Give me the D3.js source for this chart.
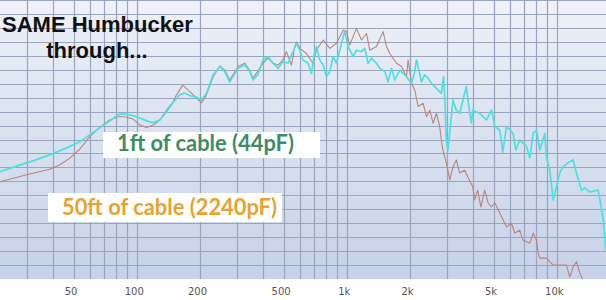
<!DOCTYPE html>
<html>
<head>
<meta charset="utf-8">
<script src="https://cdn.jsdelivr.net/npm/d3@7"></script>
<style>
  body { margin: 0; background: #fff; }
  svg { display: block; }
</style>
</head>
<body>
<div id="chart"></div>
<script>
// [frequency Hz, level dB]
const shortCable = [
  [22.3,-36.9],[27.7,-35.5],[32,-34.6],[38.5,-33.3],[46.4,-31.8],[53.5,-30.5],[59.7,-29.0],[66.6,-27.5],
  [74.4,-26.0],[81.2,-24.7],[85.8,-24.5],[92.6,-24.7],[100,-25.1],[111.6,-26.0],[119.2,-26.4],[128.7,-25.8],
  [139,-24.0],[148.4,-22.1],[160,-20.4],[169,-20.0],[178.9,-20.6],[192.5,-20.9],[203.4,-21.5],[214.7,-20.1],
  [231,-16.1],[248.5,-14.3],[262.5,-15.4],[277,-17.6],[287,-16.5],[304,-14.7],[327,-14.0],[345,-15.4],
  [358,-17.2],[377,-16.1],[398.5,-12.9],[422,-12.2],[446,-13.6],[471,-14.7],[497,-13.3],[525,-13.6],
  [555,-11.1],[576,-9.3],[597,-10.8],[619,-12.9],[654,-13.6],[679,-15.8],[704,-11.1],[717,-10.0],
  [744,-12.9],[772,-14.0],[800,-16.5],[830,-15.4],[861,-12.2],[893,-13.6],[926,-10.8],[961,-7.9],
  [978,-6.8],[1014,-10.0],[1072,-12.2],[1112,-10.8],[1175,-11.1],[1218,-10.4],[1263,-13.6],[1311,-12.5],
  [1385,-13.6],[1436,-14.7],[1517,-15.4],[1573,-17.6],[1633,-14.7],[1694,-17.2],[1789,-15.1],[1925,-16.5],
  [2034,-17.9],[2108,-15.4],[2147,-12.9],[2186,-14.3],[2268,-17.6],[2351,-16.1],[2438,-16.8],[2530,-17.9],
  [2623,-18.6],[2720,-19.4],[2820,-20.1],[2891,-16.5],[2933,-21.5],[2980,-30.1],[3032,-32.3],[3204,-21.5],
  [3323,-23.7],[3446,-24.4],[3640,-20.1],[3710,-18.6],[3775,-21.5],[3916,-26.5],[3985,-23.7],[4287,-24.4],
  [4627,-25.8],[4890,-23.7],[5070,-27.2],[5353,-28.0],[5530,-32.7],[5760,-27.2],[6190,-28.7],[6380,-32.3],
  [6660,-30.1],[7170,-31.5],[7440,-34.0],[7720,-28.7],[8010,-28.0],[8300,-32.3],[8770,-28.7],[8930,-33.8],
  [9260,-36.6],[9610,-43.0],[9970,-40.2],[10330,-37.2],[10720,-35.9],[11320,-35.0],[11960,-34.4],[12410,-37.2],
  [13110,-40.9],[13590,-40.4],[14360,-41.3],[15730,-40.9],[16150,-43.6],[16620,-47.3],[17130,-53.8]
];

const longCable = [
  [22.3,-39.1],[29.9,-37.6],[38.5,-36.4],[42.9,-35.5],[48,-34.0],[53.5,-32.1],[59.7,-29.4],[66.6,-27.4],
  [74.4,-25.8],[81.5,-25.1],[87.7,-25.1],[96,-25.6],[103.6,-26.9],[111.2,-27.4],[119.6,-26.9],[128.7,-25.8],
  [138.6,-23.7],[149,-21.9],[154.6,-20.4],[165.5,-18.3],[178.9,-19.7],[192.5,-21.1],[203.4,-22.1],[214.7,-20.4],
  [231,-16.5],[248.5,-14.2],[262.5,-15.1],[277,-17.2],[287,-16.1],[304,-14.3],[327,-13.6],[345,-15.1],
  [358,-16.8],[385,-14.7],[398.5,-13.6],[422,-12.5],[446,-13.6],[471,-14.0],[497,-12.9],[516,-11.1],
  [545,-14.0],[566,-10.0],[576,-9.0],[597,-10.4],[643,-11.5],[690,-13.6],[717,-10.8],[772,-8.6],
  [830,-10.4],[893,-9.3],[961,-6.5],[997,-6.8],[1033,-9.7],[1112,-6.1],[1175,-8.6],[1241,-7.2],
  [1287,-10.8],[1385,-10.0],[1489,-6.8],[1546,-10.0],[1602,-11.5],[1724,-13.6],[1822,-14.3],[1925,-16.5],
  [1959,-12.9],[2034,-17.9],[2108,-19.4],[2186,-22.9],[2309,-22.2],[2397,-25.1],[2485,-23.7],[2576,-26.5],
  [2672,-24.4],[2770,-27.2],[2820,-30.1],[2870,-32.3],[2980,-35.1],[3094,-38.7],[3204,-35.9],[3323,-34.4],
  [3446,-37.2],[3640,-36.6],[3775,-38.1],[3985,-40.2],[4060,-43.0],[4200,-40.9],[4350,-44.5],[4538,-40.9],
  [4710,-43.6],[4890,-44.5],[5070,-43.6],[5353,-45.8],[5760,-48.8],[6080,-48.0],[6310,-50.1],[6660,-49.5],
  [6900,-51.6],[7440,-52.3],[7720,-50.1],[8010,-51.6],[8150,-54.4],[8300,-55.5],[8930,-55.5],[9610,-57.0],
  [10330,-57.0],[11120,-57.0],[11530,-59.6],[11960,-57.4],[12410,-56.3],[12870,-58.7],[13260,-60]
];

const tickHz = [50, 100, 200, 500, 1000, 2000, 5000, 10000];
const tickLabels = ["50", "100", "200", "500", "1k", "2k", "5k", "10k"];
const titleLines = ["SAME Humbucker", "through..."];
const seriesNames = ["1ft of cable (44pF)", "50ft of cable (2240pF)"];

const width = 606, height = 300;
const plotH = 279;

const svg = d3.select("#chart").append("svg")
    .attr("width", width)
    .attr("height", height);

const x = d3.scaleLog().domain([20, 20000]).range([-10, 620]);
const y = d3.scaleLinear().domain([-60, 0]).range([plotH, 0]);

// background
const grad = svg.append("defs").append("linearGradient")
    .attr("id", "bg").attr("x1", 0).attr("y1", 0).attr("x2", 0).attr("y2", 1);
grad.append("stop").attr("offset", "0%").attr("stop-color", "#eef2f8");
grad.append("stop").attr("offset", "45%").attr("stop-color", "#dbe3f0");
grad.append("stop").attr("offset", "100%").attr("stop-color", "#c6d2e9");

svg.append("rect")
    .attr("x", 0).attr("y", 0)
    .attr("width", width).attr("height", plotH)
    .attr("fill", "url(#bg)");

// grid
const grid = svg.append("g").attr("stroke", "#9aa5bd").attr("stroke-width", 1.2);
grid.selectAll(".vgrid")
    .data(x.ticks())
    .join("line")
    .attr("class", "vgrid")
    .attr("x1", d => Math.round(x(d)) + 0.5)
    .attr("x2", d => Math.round(x(d)) + 0.5)
    .attr("y1", 0).attr("y2", plotH);
grid.selectAll(".hgrid")
    .data(d3.range(-57, 1, 3))
    .join("line")
    .attr("class", "hgrid")
    .attr("x1", 0).attr("x2", width)
    .attr("y1", d => Math.round(y(d)) + 0.5)
    .attr("y2", d => Math.round(y(d)) + 0.5);

// x axis labels
const axis = svg.append("g")
    .attr("transform", `translate(-3,${plotH})`)
    .call(d3.axisBottom(x).tickValues(tickHz).tickSize(0).tickPadding(9)
        .tickFormat((d, i) => tickLabels[i]));
axis.select(".domain").remove();
axis.selectAll("text")
    .attr("fill", "#555")
    .style("font-family", "'DejaVu Sans', sans-serif")
    .style("font-size", "10px");

// curves
const line = d3.line()
    .x(d => x(d[0]))
    .y(d => y(d[1]));

svg.append("path")
    .datum(longCable)
    .attr("fill", "none")
    .attr("stroke", "#b8857c")
    .attr("stroke-width", 1.1)
    .attr("stroke-linejoin", "round")
    .attr("d", line);

svg.append("path")
    .datum(shortCable)
    .attr("fill", "none")
    .attr("stroke", "#4ee0e0")
    .attr("stroke-width", 1.7)
    .attr("stroke-linejoin", "round")
    .attr("d", line);

// title
svg.append("text")
    .attr("x", 2).attr("y", 32)
    .style("font-family", "'Liberation Sans', Arial, sans-serif")
    .style("font-weight", "bold")
    .style("font-size", "22px")
    .attr("fill", "#111")
    .text(titleLines[0]);
svg.append("text")
    .attr("x", 97).attr("y", 58)
    .attr("text-anchor", "middle")
    .style("font-family", "'Liberation Sans', Arial, sans-serif")
    .style("font-weight", "bold")
    .style("font-size", "22px")
    .attr("fill", "#111")
    .text(titleLines[1]);

// legend labels on white boxes
const labels = [
  {text: seriesNames[0], color: "#3d8c63", box: [103, 132, 217, 26], tx: 117, ty: 151, w: 177},
  {text: seriesNames[1], color: "#e8a22f", box: [48, 193, 234, 29], tx: 62, ty: 215, w: 215}
];
labels.forEach(l => {
  svg.append("rect")
      .attr("x", l.box[0]).attr("y", l.box[1])
      .attr("width", l.box[2]).attr("height", l.box[3])
      .attr("fill", "#fff");
  const t = svg.append("text")
      .attr("x", l.tx).attr("y", l.ty)
      .style("font-family", "Lato, 'Open Sans', sans-serif")
      .style("font-weight", "bold")
      .style("font-size", "20px")
      .attr("fill", l.color)
      .text(l.text);
  const len = t.node().getComputedTextLength();
  t.style("font-size", (20 * l.w / len).toFixed(2) + "px");
});
</script>
</body>
</html>
